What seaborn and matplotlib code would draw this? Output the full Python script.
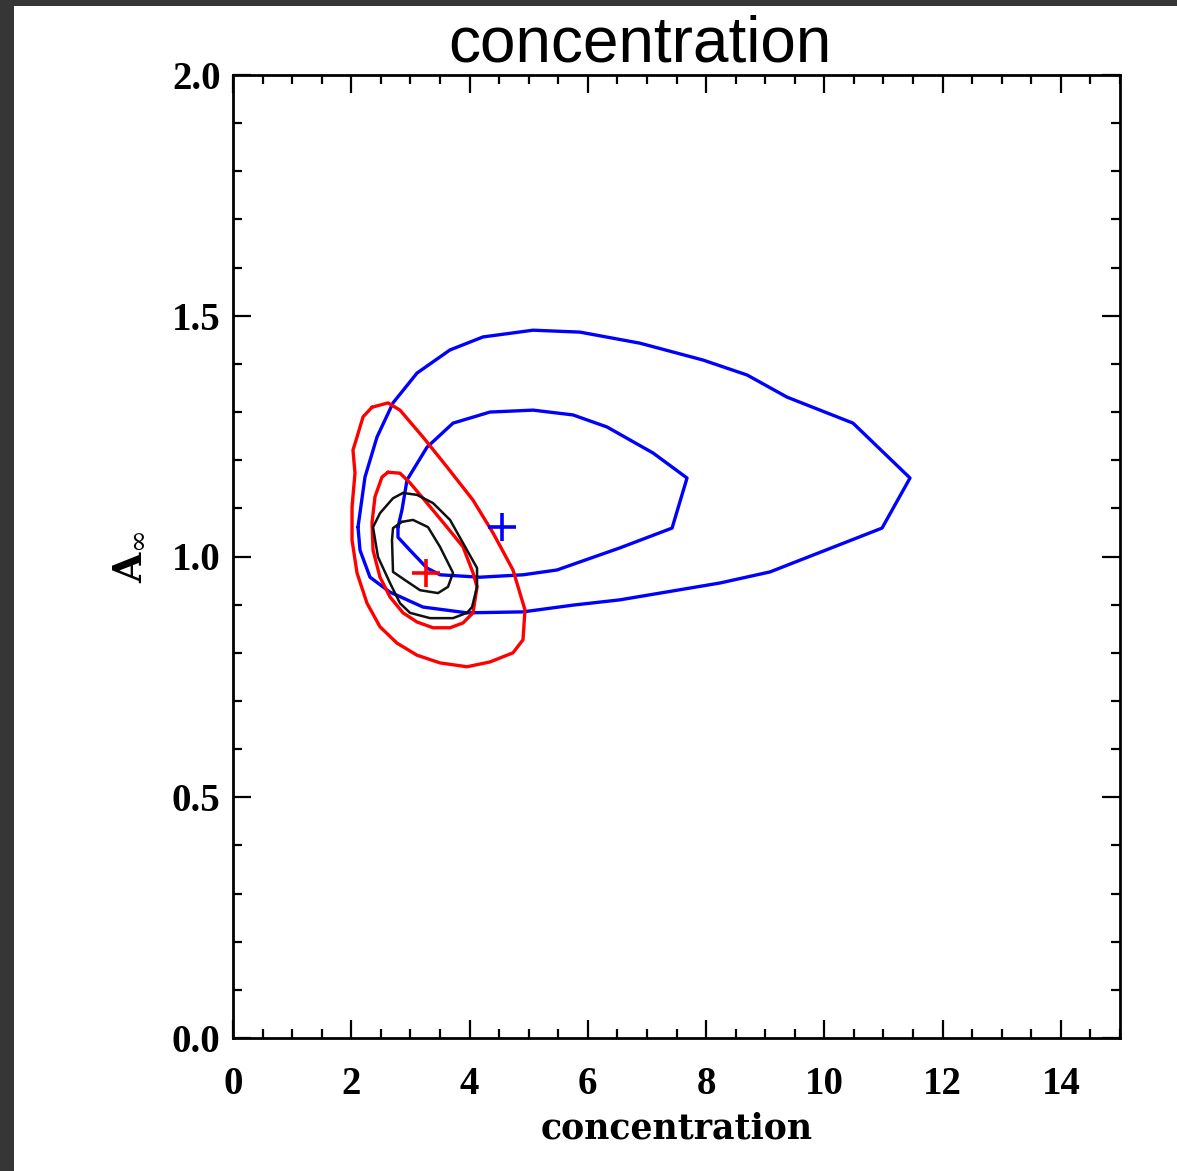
import numpy as np
import pandas as pd
import matplotlib
matplotlib.use("Agg")
import matplotlib.pyplot as plt
from matplotlib.patches import Rectangle
from matplotlib.ticker import MultipleLocator
import seaborn as sns

# ---------------- data ----------------
blue_outer_x = [2.114, 2.232, 2.435, 2.706, 3.112, 3.670, 4.228, 5.074, 5.868, 6.883, 7.949, 8.693,
                9.369, 10.485, 11.449, 10.976, 9.082, 8.236, 6.545, 5.750, 4.905, 3.957, 3.213,
                2.655, 2.317, 2.148]
blue_outer_y = [1.061, 1.165, 1.248, 1.319, 1.381, 1.429, 1.456, 1.470, 1.466, 1.443, 1.408, 1.377,
                1.331, 1.277, 1.163, 1.059, 0.968, 0.945, 0.910, 0.899, 0.885, 0.883, 0.895,
                0.926, 0.957, 1.013]

blue_inner_x = [2.790, 2.858, 2.943, 3.281, 3.721, 4.346, 5.074, 5.750, 6.325, 7.103, 7.678, 7.425,
                6.545, 5.479, 4.905, 4.177, 3.501, 3.281, 2.993, 2.790]
blue_inner_y = [1.061, 1.097, 1.159, 1.227, 1.277, 1.300, 1.304, 1.294, 1.269, 1.215, 1.163, 1.059,
                1.018, 0.972, 0.962, 0.957, 0.962, 0.976, 1.013, 1.040]

red_outer_x = [2.351, 2.621, 2.824, 3.213, 3.619, 4.059, 4.397, 4.735, 4.938, 4.904, 4.735, 4.346,
               3.957, 3.501, 3.112, 2.774, 2.486, 2.266, 2.097, 2.013, 2.013, 2.063, 2.029, 2.097,
               2.199]
red_outer_y = [1.310, 1.319, 1.304, 1.248, 1.186, 1.117, 1.049, 0.972, 0.889, 0.827, 0.800, 0.781,
               0.771, 0.779, 0.795, 0.820, 0.854, 0.903, 0.966, 1.034, 1.103, 1.173, 1.221, 1.248,
               1.290]

red_inner_x = [2.621, 2.824, 2.993, 3.281, 3.619, 3.890, 4.059, 4.127, 4.059, 3.890, 3.670, 3.382,
               3.112, 2.875, 2.655, 2.486, 2.368, 2.351, 2.401, 2.520]
red_inner_y = [1.175, 1.173, 1.153, 1.111, 1.061, 1.020, 0.966, 0.937, 0.883, 0.862, 0.852, 0.852,
               0.864, 0.883, 0.916, 0.957, 1.013, 1.070, 1.124, 1.165]

black_outer_x = [2.875, 3.112, 3.382, 3.670, 3.890, 4.127, 4.127, 4.042, 3.957, 3.721, 3.332, 2.993,
                 2.824, 2.655, 2.452, 2.368, 2.486, 2.706]
black_outer_y = [1.132, 1.128, 1.111, 1.076, 1.028, 0.976, 0.937, 0.895, 0.883, 0.872, 0.872, 0.883,
                 0.903, 0.945, 0.999, 1.061, 1.090, 1.121]

black_inner_x = [2.858, 3.044, 3.298, 3.501, 3.721, 3.636, 3.467, 3.163, 2.909, 2.706, 2.689, 2.706]
black_inner_y = [1.072, 1.076, 1.061, 1.020, 0.966, 0.937, 0.924, 0.930, 0.951, 0.968, 1.034, 1.059]

best_fit_x = [4.55, 3.264]
best_fit_y = [1.061, 0.966]
best_fit_color = ["#0000ff", "#ff0000"]

x_ticks = [0, 2, 4, 6, 8, 10, 12, 14]
y_ticks = [0.0, 0.5, 1.0, 1.5, 2.0]

# ---------------- figure ----------------
sns.set_theme(style="ticks")
plt.rcParams["mathtext.fontset"] = "dejavuserif"
plt.rcParams["text.color"] = "black"
plt.rcParams["axes.labelcolor"] = "black"
plt.rcParams["xtick.color"] = "black"
plt.rcParams["ytick.color"] = "black"

W, H = 1177, 1171
fig = plt.figure(figsize=(W / 100, H / 100), dpi=100)
fig.patch.set_facecolor("white")
# dark screenshot border
fig.patches.append(Rectangle((0, 0), 14 / W, 1, transform=fig.transFigure,
                             facecolor="#363636", edgecolor="none", zorder=0))
fig.patches.append(Rectangle((0, 1 - 6 / H), 1, 6 / H, transform=fig.transFigure,
                             facecolor="#363636", edgecolor="none", zorder=0))

ax = fig.add_axes([233 / W, 1 - 1038 / H, (1120 - 233) / W, (1038 - 75) / H])
ax.set_facecolor("white")


def closed(xs, ys):
    return pd.DataFrame({"x": list(xs) + [xs[0]], "y": list(ys) + [ys[0]]})


for xs, ys, col, lw in [
    (blue_outer_x, blue_outer_y, "#0000ff", 2.4),
    (blue_inner_x, blue_inner_y, "#0000ff", 2.4),
    (red_outer_x, red_outer_y, "#ff0000", 2.4),
    (red_inner_x, red_inner_y, "#ff0000", 2.4),
    (black_outer_x, black_outer_y, "#111111", 1.8),
    (black_inner_x, black_inner_y, "#111111", 1.8),
]:
    sns.lineplot(data=closed(xs, ys), x="x", y="y", sort=False, estimator=None,
                 color=col, linewidth=lw, ax=ax)

for bx, by, bc in zip(best_fit_x, best_fit_y, best_fit_color):
    sns.scatterplot(x=[bx], y=[by], marker="+", s=420, color=bc, linewidth=2.6, ax=ax, zorder=5)

ax.set_xlim(0, 15)
ax.set_ylim(0, 2.0)
ax.set_xticks(x_ticks)
ax.set_yticks(y_ticks)
ax.xaxis.set_minor_locator(MultipleLocator(0.5))
ax.yaxis.set_minor_locator(MultipleLocator(0.1))

tick_font = {"family": "Liberation Serif", "weight": "bold", "size": 28, "color": "black"}
ax.set_xticklabels([str(t) for t in x_ticks], fontdict=tick_font)
ax.set_yticklabels([f"{t:.1f}" for t in y_ticks], fontdict=tick_font)

ax.tick_params(which="both", direction="in", top=True, right=True, width=1.6, color="black")
ax.tick_params(which="major", length=13)
ax.tick_params(which="minor", length=6.5)
ax.tick_params(axis="x", which="major", pad=20)
ax.tick_params(axis="y", which="major", pad=9)
for s in ax.spines.values():
    s.set_linewidth(2.0)
    s.set_color("black")

ax.set_xlabel("concentration", fontfamily="DejaVu Serif", fontweight="bold", fontsize=25,
              labelpad=6, color="black")
ax.set_ylabel(r"A$_{\infty}$", fontfamily="DejaVu Serif", fontweight="bold", fontsize=28,
              labelpad=18, color="black")

fig.text(640 / W, 1 - 62 / H, "concentration", ha="center", va="baseline",
         fontfamily="Liberation Sans", fontsize=46, color="black")

ax.grid(False)
fig.savefig("out.png", dpi=100, facecolor=fig.get_facecolor())
